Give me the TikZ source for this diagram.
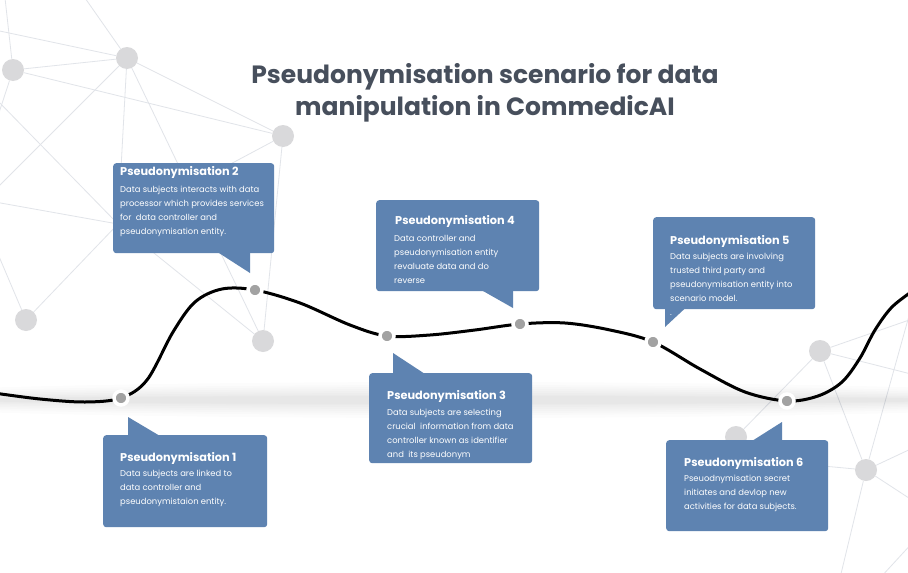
\documentclass[tikz,border=0pt]{standalone}
\usepackage{fontspec}
\setmainfont{Poppins}
\usetikzlibrary{calc,backgrounds}
\definecolor{boxblue}{HTML}{5E83B1}
\definecolor{titlegray}{HTML}{474F5C}
\definecolor{netline}{HTML}{E1E4E9}
\definecolor{netfill}{HTML}{D9D9DB}
\definecolor{dotgray}{HTML}{A2A2A2}
\begin{document}
\begin{tikzpicture}[x=1pt,y=-1pt,
  netedge/.style={draw=netline, line width=0.8pt},
  netnode/.style={circle, fill=netfill, minimum size=22pt, inner sep=0pt},
  dotnode/.style={circle, fill=dotgray, draw=white, line width=3.5pt, minimum size=14pt, inner sep=0pt},
  callout/.style={fill=boxblue, rounded corners=3pt, inner sep=0pt, anchor=north west},
  tailshape/.style={fill=boxblue},
  ctitle/.style={font=\bfseries\fontsize{11.3}{13}\selectfont, text=white, anchor=base west, inner sep=0pt},
  cbody/.style={font=\fontsize{8.4}{14}\selectfont, text=white, anchor=base west, inner sep=0pt, align=left},
  shadowband/.style={fill=black, opacity=0.011}
]
\useasboundingbox (0,0) rectangle (908,573);

% ---------- background network ----------
\node[netnode] (nA) at (13,70) {};
\node[netnode] (nB) at (127,58) {};
\node[netnode] (nC) at (283,136) {};
\node[netnode] (nD) at (26,320) {};
\node[netnode] (nE) at (263,341) {};
\coordinate (nF) at (118,224);
\node[netnode] (nG) at (820,351) {};
\node[netnode] (nH) at (866,470) {};
\node[netnode] (nI) at (736,437) {};
\coordinate (nJ) at (780,462);
\coordinate (e1) at (-5,30);
\coordinate (e2) at (85,-2);
\coordinate (e3) at (5,-2);
\coordinate (e4) at (-5,125);
\coordinate (e5) at (-5,98);
\coordinate (e6) at (-5,190);
\coordinate (e7) at (-5,202);
\coordinate (e8) at (-8,240);
\coordinate (r1) at (915,318);
\coordinate (r2) at (915,375);
\coordinate (r3) at (914,298);
\coordinate (r4) at (840,578);
\coordinate (r5) at (915,447);
\coordinate (r6) at (915,502);
\coordinate (r7) at (915,540);
\coordinate (r8) at (880,578);
\coordinate (r9) at (690,475);

\begin{scope}[on background layer]
  \fill[white] (0,0) rectangle (908,573);
  \draw[netedge] (e1) -- (nB);
  \draw[netedge] (e2) -- (nB);
  \draw[netedge] (e3) -- (nA) -- (e4);
  \draw[netedge] (nA) -- (nB);
  \draw[netedge] (nA) -- (nC);
  \draw[netedge] (nB) -- (nC);
  \draw[netedge] (nB) -- (e6);
  \draw[netedge] (nB) -- (nF);
  \draw[netedge] (nB) -- (nE);
  \draw[netedge] (nC) -- (nF);
  \draw[netedge] (nC) -- (nE);
  \draw[netedge] (e5) -- (nF) -- (nE);
  \draw[netedge] (e7) -- (nF);
  \draw[netedge] (nD) -- (nF);
  \draw[netedge] (nD) -- (e8);
  \draw[netedge] (nG) -- (r1);
  \draw[netedge] (nG) -- (r2);
  \draw[netedge] (nG) -- (nI) -- (r9);
  \draw[netedge] (nG) -- (nH);
  \draw[netedge] (r3) -- (nH);
  \draw[netedge] (nH) -- (r4);
  \draw[netedge] (nH) -- (r5);
  \draw[netedge] (nH) -- (r6);
  \draw[netedge] (nH) -- (nJ);
  \draw[netedge] (r7) -- (r8);
\end{scope}

% ---------- shadow band ----------
\foreach \rx/\ry in {640/18,620/15,600/13,580/11,560/9,540/7,520/5,500/4}
  \fill[shadowband] (454,400) ellipse [x radius=\rx, y radius=\ry];

% ---------- timeline curve ----------
\coordinate (p1) at (121,398);
\coordinate (p2) at (255,290);
\coordinate (p3) at (387,336);
\coordinate (p4) at (520,324);
\coordinate (p5) at (653,342);
\coordinate (p6) at (787,401);
\draw[line width=3pt, black] plot[smooth, tension=0.55] coordinates {
  (-6,393) (40,399) (85,402) (p1) (147,380) (173,332) (195,302) (222,289) (p2)
  (300,303) (350,325) (p3) (430,335) (475,330) (p4) (565,323) (610,330) (p5)
  (700,369) (745,392) (p6) (818,396) (842,382) (860,358) (875,330) (892,307) (914,290)};
\foreach \p in {1,...,6}
  \node[dotnode] (d\p) at (p\p) {};

% ---------- title ----------
\node[font=\bfseries\fontsize{25}{32}\selectfont, text=titlegray, align=center, anchor=base, inner sep=0pt] (title) at (485,115)
  {Pseudonymisation scenario for data\\manipulation in CommedicAI};

% ---------- callouts ----------
% 1
\node[callout, minimum width=164pt, minimum height=92pt] (b1) at (103,435) {};
\fill[tailshape] ($(b1.north west)+(25,1)$) -- ($(d1)+(7,19)$) -- ($(b1.north west)+(57,1)$) -- cycle;
\node[ctitle] (t1) at (120,461) {Pseudonymisation 1};
\node[cbody] (x1) at (120,504) {Data subjects are linked to\\data controller and\\pseudonymistaion entity.};
% 2
\node[callout, minimum width=161pt, minimum height=90pt] (b2) at (113,163) {};
\fill[tailshape] ($(b2.south west)+(105,-1)$) -- ($(d2)+(-5,-17)$) -- ($(b2.south west)+(137,-1)$) -- cycle;
\node[ctitle] (t2) at (120,175) {Pseudonymisation 2};
\node[cbody] (x2) at (120,234) {Data subjects interacts with data\\processor which provides services\\for\ \ data controller and\\pseudonymisation entity.};
% 3
\node[callout, minimum width=163pt, minimum height=90pt] (b3) at (369,373) {};
\fill[tailshape] ($(b3.north west)+(24,1)$) -- ($(d3)+(6,17)$) -- ($(b3.north west)+(56,1)$) -- cycle;
\node[ctitle] (t3) at (387,399) {Pseudonymisation 3};
\node[cbody] (x3) at (387,457) {Data subjects are selecting\\crucial\ \ information from data\\controller known as identifier\\and\ \ its pseudonym};
% 4
\node[callout, minimum width=163pt, minimum height=91pt] (b4) at (376,200) {};
\fill[tailshape] ($(b4.south west)+(106,-1)$) -- ($(d4)+(-7,-16)$) -- ($(b4.south west)+(137,-1)$) -- cycle;
\node[ctitle] (t4) at (395,224) {Pseudonymisation 4};
\node[cbody] (x4) at (394,283) {Data controller and\\pseudonymisation entity\\revaluate data and do\\reverse};
% 5
\node[callout, minimum width=162pt, minimum height=92pt] (b5) at (653,217) {};
\fill[tailshape] ($(b5.south west)+(12,-1)$) -- ($(d5)+(12,-15)$) -- ($(b5.south west)+(32,-1)$) -- cycle;
\node[ctitle] (t5) at (670,244) {Pseudonymisation 5};
\node[cbody] (x5) at (670,315) {Data subjects are involving\\trusted third party and\\pseudonymisation entity into\\scenario model.\\{.}};
% 6
\node[callout, minimum width=162pt, minimum height=91pt] (b6) at (666,440) {};
\fill[tailshape] ($(b6.north west)+(86,1)$) -- ($(d6)+(-5,21)$) -- ($(b6.north west)+(116,1)$) -- cycle;
\node[ctitle] (t6) at (684,466) {Pseudonymisation 6};
\node[cbody] (x6) at (684,509) {Pseuodnymisation secret\\initiates and devlop new\\activities for data subjects.};
\end{tikzpicture}
\end{document}
